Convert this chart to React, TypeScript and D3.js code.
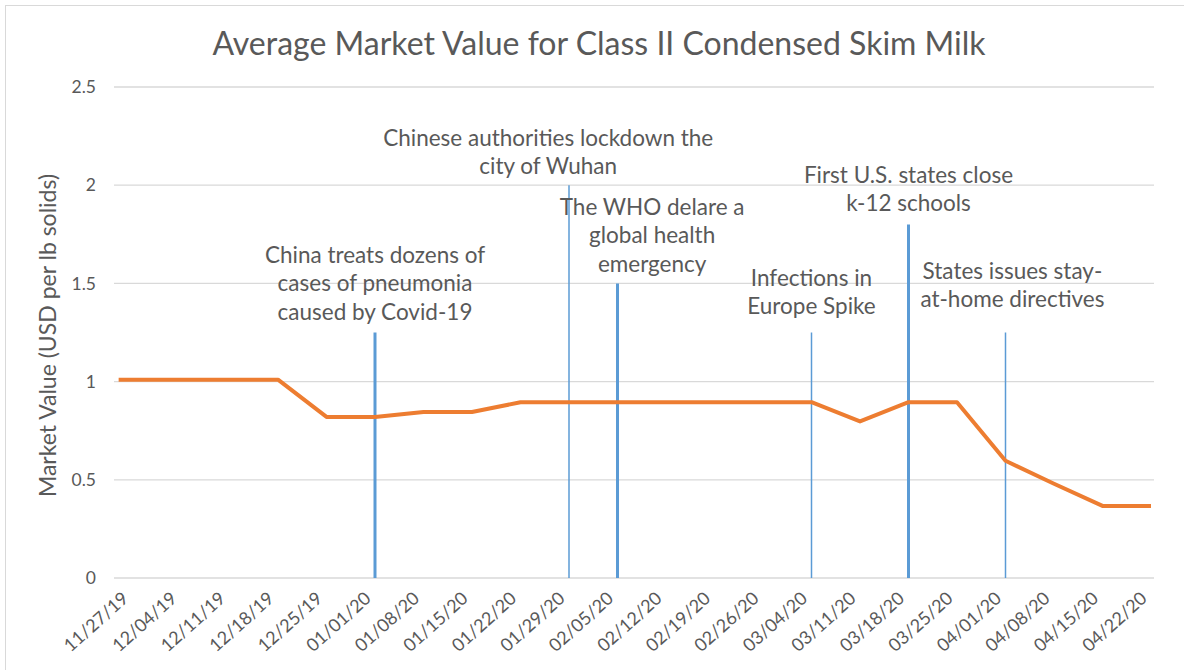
import React from "react";
import * as d3 from "d3";

// weekly axis labels
const tickLabels = [
  "11/27/19", "12/04/19", "12/11/19", "12/18/19", "12/25/19", "01/01/20", "01/08/20",
  "01/15/20", "01/22/20", "01/29/20", "02/05/20", "02/12/20", "02/19/20", "02/26/20",
  "03/04/20", "03/11/20", "03/18/20", "03/25/20", "04/01/20", "04/08/20", "04/15/20", "04/22/20",
];

// market value series (USD per lb solids)
const seriesDates = [
  "11/25/19", "12/04/19", "12/11/19", "12/18/19", "12/25/19", "01/01/20", "01/08/20",
  "01/15/20", "01/22/20", "01/29/20", "02/05/20", "02/12/20", "02/19/20", "02/26/20",
  "03/04/20", "03/11/20", "03/18/20", "03/25/20", "04/01/20", "04/08/20", "04/15/20", "04/22/20",
];
const seriesValues = [
  1.01, 1.01, 1.01, 1.01, 0.82, 0.82, 0.845, 0.845, 0.895, 0.895, 0.895,
  0.895, 0.895, 0.895, 0.895, 0.797, 0.895, 0.895, 0.597, 0.48, 0.367, 0.367,
];

// event markers
const eventDates = ["01/01/20", "01/29/20", "02/05/20", "03/04/20", "03/18/20", "04/01/20"];
const eventHeights = [1.25, 2.0, 1.5, 1.25, 1.8, 1.25];
const eventThick = [true, false, true, false, true, false];

// event notes: anchor date, anchor value, text lines
const noteDates = ["01/01/20", "01/26/20", "02/10/20", "03/04/20", "03/18/20", "04/02/20"];
const noteValues = [1.645, 2.24, 1.89, 1.527, 2.052, 1.563];
const noteLines = [
  ["China treats dozens of", "cases of pneumonia", "caused by Covid-19"],
  ["Chinese authorities lockdown the", "city of Wuhan"],
  ["The WHO delare a", "global health", "emergency"],
  ["Infections in", "Europe Spike"],
  ["First U.S. states close", "k-12 schools"],
  ["States issues stay-", "at-home directives"],
];

const yTicks = [0, 0.5, 1, 1.5, 2, 2.5];

const parse = d3.utcParse("%m/%d/%y");
const W = 1184;
const H = 670;
const left = 114;
const right = 1154;
const top = 87;
const bottom = 578;
const FONT = "Lato, 'Open Sans', sans-serif";
const GRAY = "#595959";

export default function App() {
  const x = d3
    .scaleUtc()
    .domain([parse(tickLabels[0])!, parse(tickLabels[tickLabels.length - 1])!])
    .range([132.5, 1151]);
  const y = d3.scaleLinear().domain([0, 2.5]).range([bottom, top]);

  const line = d3
    .line<number>()
    .x((_, i) => x(parse(seriesDates[i])!))
    .y((d) => y(d));

  return (
    <div style={{ position: "absolute", left: 0, top: 0 }}>
      <svg width={W} height={H} style={{ display: "block", fontFamily: FONT }}>
        <rect x={0} y={0} width={W} height={H} fill="#fff" />
        <rect x={5.5} y={5.5} width={W + 10} height={H + 10} fill="none" stroke="#d9d9d9" />
        <text x={599} y={55} textAnchor="middle" fontSize={32} fill={GRAY}>
          Average  Market Value for Class II Condensed  Skim Milk
        </text>
        {yTicks.map((t) => (
          <g key={t}>
            <line x1={left} x2={right} y1={y(t)} y2={y(t)} stroke="#d9d9d9" strokeWidth={1.3} />
            <text x={96} y={y(t)} dy="0.35em" textAnchor="end" fontSize={17.5} fill={GRAY}>
              {t}
            </text>
          </g>
        ))}
        <text
          transform={`translate(48,${(bottom + top) / 2 + 3}) rotate(-90)`}
          textAnchor="middle"
          dy="0.35em"
          fontSize={23}
          fill={GRAY}
        >
          Market Value (USD per lb solids)
        </text>
        {tickLabels.map((d) => (
          <text
            key={d}
            transform={`translate(${x(parse(d)!) - 3},${bottom + 22}) rotate(-42)`}
            textAnchor="end"
            fontSize={18}
            fill={GRAY}
          >
            {d}
          </text>
        ))}
        {eventDates.map((d, i) => (
          <line
            key={d}
            x1={x(parse(d)!)}
            x2={x(parse(d)!)}
            y1={y(0)}
            y2={y(eventHeights[i])}
            stroke="#5b9bd5"
            strokeWidth={eventThick[i] ? 3 : 1.5}
          />
        ))}
        <path
          d={line(seriesValues) ?? ""}
          fill="none"
          stroke="#ed7d31"
          strokeWidth={4}
          strokeLinejoin="round"
        />
        {noteLines.map((lines, i) => (
          <text
            key={i}
            x={x(parse(noteDates[i])!)}
            y={y(noteValues[i])}
            textAnchor="middle"
            fontSize={22.5}
            fill={GRAY}
          >
            {lines.map((l, j) => (
              <tspan key={j} x={x(parse(noteDates[i])!)} dy={j === 0 ? "0.35em" : 28.5}>
                {l}
              </tspan>
            ))}
          </text>
        ))}
      </svg>
    </div>
  );
}
